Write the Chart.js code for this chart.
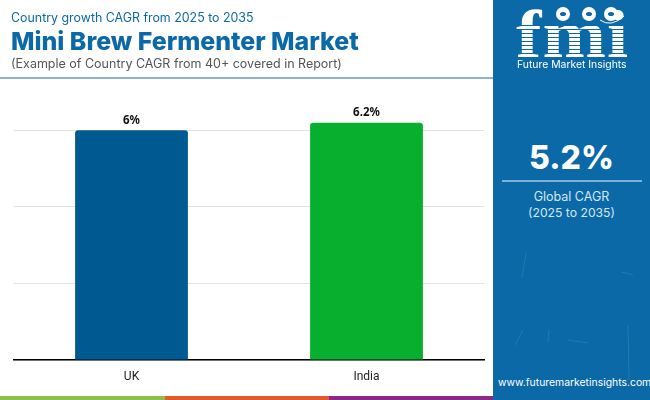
<!DOCTYPE html>
<html>
<head>
<meta charset="utf-8">
<script src="https://cdn.jsdelivr.net/npm/chart.js@4"></script>
<style>
  html, body { margin: 0; padding: 0; background: #fff; }
  body { width: 650px; height: 400px; overflow: hidden; position: relative; font-family: Inter, sans-serif; }
  .abs { position: absolute; white-space: nowrap; line-height: 1; }
  #chartBox { position: absolute; left: 0; top: 0; width: 493px; height: 396px; }
  #panel { position: absolute; left: 493px; top: 0; width: 157px; height: 400px; background: #0b69a8; overflow: hidden; }
  #logoText { position: absolute; left: 23px; top: 2px; font: bold 68px "Liberation Serif", serif; letter-spacing: 1px; color: #fff; line-height: 64px; transform: scaleX(1.12); transform-origin: left top; }
  #logoStripes { position: absolute; left: 20px; top: 22px; width: 118px; height: 36px;
    background: repeating-linear-gradient(to bottom, transparent 0 3px, #0b69a8 3px 4px); }
  .dot { position: absolute; width: 14px; height: 14px; border-radius: 50%; background: #fff; top: 7px; }
  .dot i { position: absolute; left: 4px; top: 5px; width: 6px; height: 4px; border-radius: 50%; background: #0b69a8; }
  .strip { position: absolute; top: 396px; height: 4px; }
</style>
</head>
<body>
<div id="chartBox"><canvas id="chart"></canvas></div>

<div class="abs" style="left:11px;top:12px;font-size:12.4px;color:#0b69a8;">Country growth CAGR from 2025 to 2035</div>
<div class="abs" style="left:11px;top:29px;font-size:24.9px;font-weight:800;color:#0b69a8;">Mini Brew Fermenter Market</div>
<div class="abs" style="left:11px;top:58px;font-size:12.5px;color:#555;">(Example of Country CAGR from 40+ covered in Report)</div>
<div style="position:absolute;left:0;top:77px;width:493px;height:2px;background:#8fb4d1;"></div>

<div class="strip" style="left:0;width:165px;background:#8cc04b;"></div>
<div class="strip" style="left:165px;width:164px;background:#e35a2b;"></div>
<div class="strip" style="left:329px;width:164px;background:#8a2a86;"></div>

<div id="panel">
  <svg width="157" height="400" style="position:absolute;left:0;top:0;" fill="none" stroke="#fff" stroke-opacity="0.1">
    <path d="M33 253 L29 278 M56 330 L55 342 M135 325 L136 380 M30 330 L22 345 M140 275 L128 272 M75 340 L95 343"/>
  </svg>
  <div id="logoText">fmi</div>
  <div id="logoStripes"></div>
  <div class="dot" style="left:63px;"><i></i></div>
  <div class="dot" style="left:89px;"><i></i></div>
  <div class="dot" style="left:111px;"><i></i></div>
  <svg width="157" height="40" style="position:absolute;left:0;top:0;" fill="none" stroke="#fff">
    <path d="M107 20 Q118 28 131 16"/>
  </svg>
  <div class="abs" style="left:24px;top:60px;font-size:10.4px;color:#fff;">Future Market Insights</div>
  <div class="abs" style="left:0;width:157px;text-align:center;top:142px;font-size:32px;font-weight:800;color:#fff;">5.2%</div>
  <div style="position:absolute;left:9px;top:180px;width:140px;height:2px;background:#7fb0d6;"></div>
  <div class="abs" style="left:0;width:157px;text-align:center;top:191px;font-size:12.5px;color:#d5e6f3;">Global CAGR</div>
  <div class="abs" style="left:0;width:157px;text-align:center;top:207px;font-size:12.2px;color:#d5e6f3;">(2025 to 2035)</div>
  <div class="abs" style="left:5px;top:378px;font-size:10.4px;color:#fff;">www.futuremarketinsights.com</div>
</div>

<script>
const categories = ["UK", "India"];
const cagrValues = [6, 6.2];
const valueLabels = ["6%", "6.2%"];
const barColors = ["#005a92", "#08ae2e"];

// draws the value above each bar
const barLabels = {
  id: "barLabels",
  afterDatasetsDraw(chart) {
    const ctx = chart.ctx;
    const meta = chart.getDatasetMeta(0);
    ctx.save();
    ctx.font = "bold 11.5px 'Noto Sans'";
    ctx.fillStyle = "#111";
    ctx.textAlign = "center";
    ctx.textBaseline = "bottom";
    meta.data.forEach((bar, i) => {
      ctx.fillText(valueLabels[i], bar.x, bar.y - 4);
    });
    ctx.restore();
  },
};

new Chart(document.getElementById("chart"), {
  type: "bar",
  plugins: [barLabels],
  data: {
    labels: categories,
    datasets: [
      {
        data: cagrValues,
        backgroundColor: barColors,
        borderRadius: { topLeft: 3, topRight: 3 },
        borderSkipped: "bottom",
        categoryPercentage: 1,
        barPercentage: 0.48,
      },
    ],
  },
  options: {
    responsive: true,
    maintainAspectRatio: false,
    animation: false,
    layout: { padding: { left: 14, right: 9, top: 92, bottom: 0 } },
    plugins: { legend: { display: false }, tooltip: { enabled: false } },
    scales: {
      x: {
        afterFit: (scale) => { scale.height = 36; },
        grid: { display: false, drawTicks: false },
        border: { color: "#000", width: 1.5 },
        ticks: { color: "#222", font: { family: "Roboto", size: 12 }, padding: 10 },
      },
      y: {
        min: 0,
        max: 7,
        afterFit: (scale) => { scale.width = 0; },
        grid: { color: "#e2e2e2", drawTicks: false },
        border: { display: false },
        ticks: { display: false, stepSize: 2, includeBounds: false },
      },
    },
  },
});
</script>
</body>
</html>
